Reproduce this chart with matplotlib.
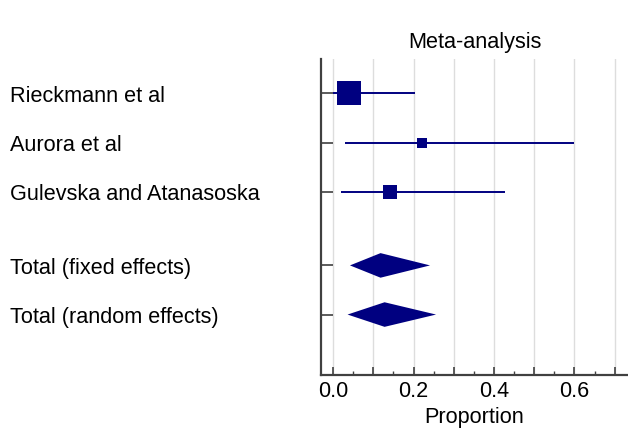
import numpy as np
import matplotlib.pyplot as plt
import matplotlib.transforms as mtransforms
from matplotlib.ticker import MultipleLocator, FuncFormatter

plt.rcParams['font.family'] = ['Liberation Sans', 'DejaVu Sans']

studies = ["Rieckmann et al", "Aurora et al", "Gulevska and Atanasoska"]
est = [0.040, 0.222, 0.142]
ci_lo = [0.0, 0.029, 0.019]
ci_hi = [0.204, 0.598, 0.427]
weights = [66.0, 9.3, 24.7]

pooled = ["Total (fixed effects)", "Total (random effects)"]
pooled_est = [0.118, 0.128]
pooled_lo = [0.042, 0.036]
pooled_hi = [0.241, 0.256]

navy = "#000080"
spine_col = "#404040"
fs = 15.6

fig = plt.figure(figsize=(6.28, 4.32), dpi=100)
ax = fig.add_axes([321 / 628, 57 / 432, 307 / 628, 316 / 432])

study_y = np.arange(len(studies))
pooled_y = len(studies) + 0.5 + np.arange(len(pooled))

# study rows: CI line plus weighted square
for y, e, lo, hi, w in zip(study_y, est, ci_lo, ci_hi, weights):
    ax.plot([lo, hi], [y, y], color=navy, lw=1.4, solid_capstyle='butt', zorder=3)
    ax.plot(e, y, marker='s', color=navy, ms=2.13 * np.sqrt(w), mew=0, zorder=4)

# pooled estimates as diamonds
for y, e, lo, hi in zip(pooled_y, pooled_est, pooled_lo, pooled_hi):
    ax.fill([lo, e, hi, e], [y, y - 0.25, y, y + 0.25], color=navy, lw=0, zorder=4)

ax.set_xlim(-0.03, 0.733)
ax.set_ylim(pooled_y[-1] + 1.23, -0.7)

ax.xaxis.set_major_locator(MultipleLocator(0.1))
ax.xaxis.set_minor_locator(MultipleLocator(0.05))
ax.xaxis.set_major_formatter(FuncFormatter(
    lambda v, p: f"{v:.1f}" if round(v * 10) % 2 == 0 else ""))
ax.grid(axis='x', which='major', color='#dddddd', lw=1.0, zorder=0)

ax.set_yticks(np.concatenate([study_y, pooled_y]))
ax.set_yticklabels([])
ax.tick_params(axis='y', direction='in', length=8.5, width=1.2, color=spine_col)
ax.tick_params(axis='x', which='major', direction='in', length=5.8, width=1.2,
               color=spine_col, labelsize=fs, pad=4.5)
ax.tick_params(axis='x', which='minor', direction='in', length=2.9, width=1.0,
               color=spine_col)

for s in ['top', 'right']:
    ax.spines[s].set_visible(False)
for s in ['left', 'bottom']:
    ax.spines[s].set_color(spine_col)
    ax.spines[s].set_linewidth(1.6)

ax.set_title("Meta-analysis", fontsize=fs, pad=8)
ax.set_xlabel("Proportion", fontsize=fs, labelpad=3.5)

# row labels on the left of the figure, baseline a little below each row
trans = mtransforms.blended_transform_factory(fig.transFigure, ax.transData)
trans = mtransforms.offset_copy(trans, fig=fig, y=-6, units='points')
for y, name in zip(np.concatenate([study_y, pooled_y]), studies + pooled):
    ax.text(10 / 628, y, name, transform=trans, ha='left', va='baseline',
            fontsize=fs, clip_on=False)

fig.savefig("out.png", dpi=100)
